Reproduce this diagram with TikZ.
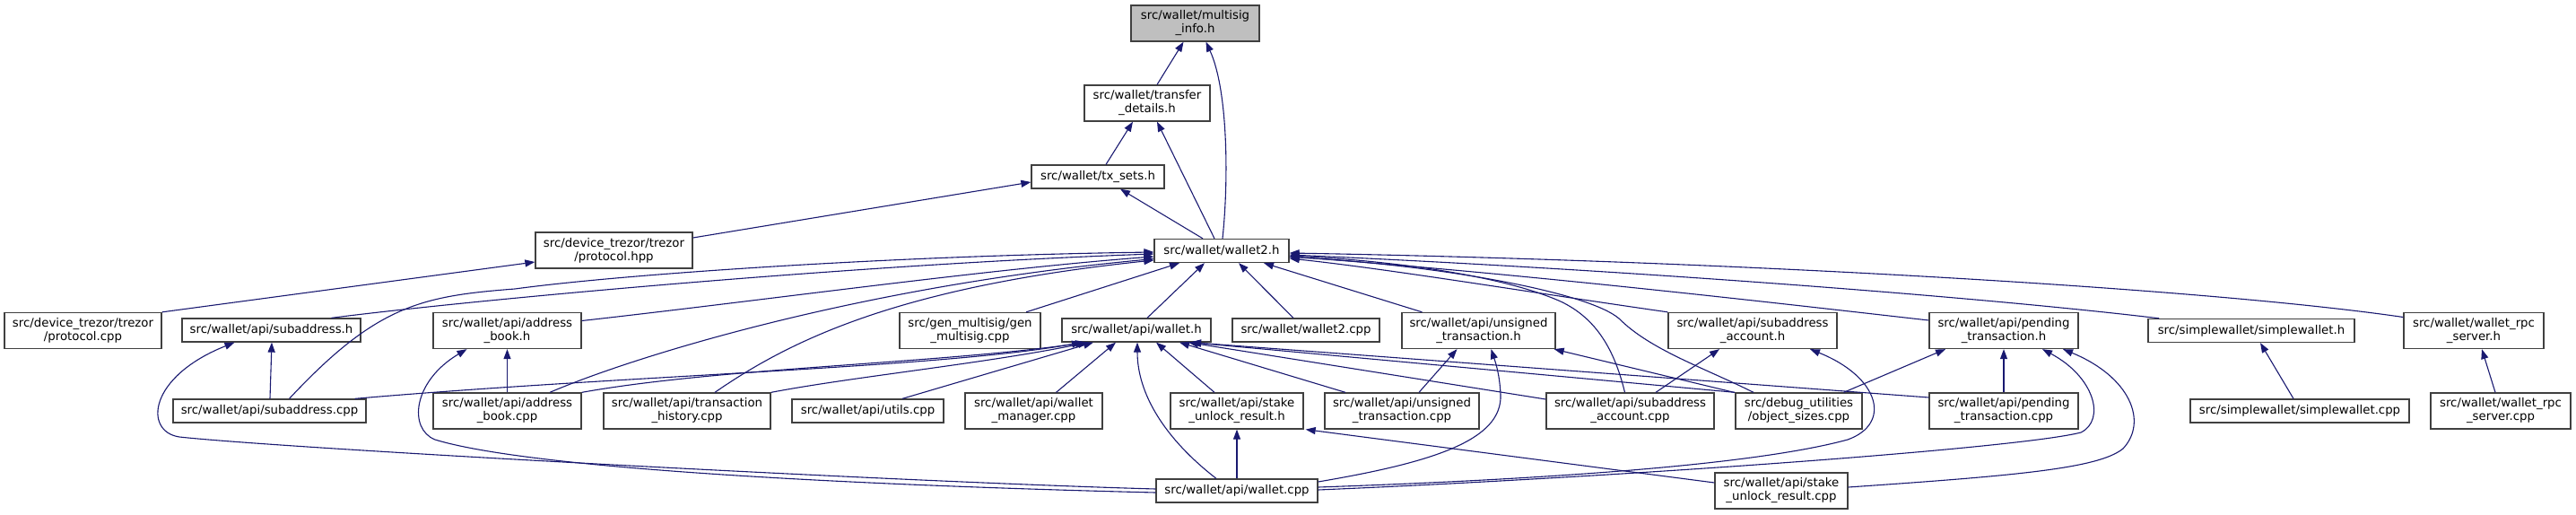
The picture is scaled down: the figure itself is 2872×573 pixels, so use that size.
\documentclass[tikz,border=0pt]{standalone}
\usepackage{fontspec}
\setmainfont{DejaVu Sans}
\usetikzlibrary{arrows.meta,calc}
\definecolor{edgeblue}{HTML}{191970}
\definecolor{boxgray}{HTML}{404040}
\definecolor{rootfill}{HTML}{BFBFBF}
\tikzset{
  fbox/.style={draw=boxgray, fill=white, line width=1.3pt, align=center, inner sep=0pt,
    font=\fontsize{13.3}{15}\selectfont},
  dep/.style={draw=edgeblue, line width=1.1pt, -{Triangle[length=11pt,width=8pt]}},
}
\begin{document}
\begin{tikzpicture}[x=1pt,y=-1pt]
\useasboundingbox (0,0) rectangle (2872,573);
% nodes
\node[fbox, fill=rootfill, minimum width=143pt, minimum height=40pt] (mi) at (1332.5,26) {src/wallet/multisig\\\_info.h};
\node[fbox, minimum width=140pt, minimum height=40pt] (td) at (1279,115) {src/wallet/transfer\\\_details.h};
\node[fbox, minimum width=148pt, minimum height=26pt] (ts) at (1224,197) {src/wallet/tx\_sets.h};
\node[fbox, minimum width=175pt, minimum height=40pt] (phpp) at (684.5,279) {src/device\_trezor/trezor\\/protocol.hpp};
\node[fbox, minimum width=150pt, minimum height=26pt] (w2h) at (1362,279.5) {src/wallet/wallet2.h};
\node[fbox, minimum width=175pt, minimum height=40pt] (pcpp) at (92.5,368.5) {src/device\_trezor/trezor\\/protocol.cpp};
\node[fbox, minimum width=199pt, minimum height=26pt] (sah) at (302.5,368) {src/wallet/api/subaddress.h};
\node[fbox, minimum width=165pt, minimum height=40pt] (abh) at (565.5,368.5) {src/wallet/api/address\\\_book.h};
\node[fbox, minimum width=157pt, minimum height=40pt] (gm) at (1081.5,368.5) {src/gen\_multisig/gen\\\_multisig.cpp};
\node[fbox, minimum width=166pt, minimum height=26pt] (wh) at (1267,368) {src/wallet/api/wallet.h};
\node[fbox, minimum width=164pt, minimum height=26pt] (w2cpp) at (1456,368) {src/wallet/wallet2.cpp};
\node[fbox, minimum width=171pt, minimum height=40pt] (uth) at (1648.5,368.5) {src/wallet/api/unsigned\\\_transaction.h};
\node[fbox, minimum width=188pt, minimum height=40pt] (sach) at (1954,368.5) {src/wallet/api/subaddress\\\_account.h};
\node[fbox, minimum width=166pt, minimum height=40pt] (pth) at (2234,368.5) {src/wallet/api/pending\\\_transaction.h};
\node[fbox, minimum width=230pt, minimum height=26pt] (swh) at (2510,368.5) {src/simplewallet/simplewallet.h};
\node[fbox, minimum width=156pt, minimum height=40pt] (rpch) at (2758,368.5) {src/wallet/wallet\_rpc\\\_server.h};
\node[fbox, minimum width=215pt, minimum height=26pt] (sacpp) at (300.5,458) {src/wallet/api/subaddress.cpp};
\node[fbox, minimum width=165pt, minimum height=40pt] (abcpp) at (565.5,458) {src/wallet/api/address\\\_book.cpp};
\node[fbox, minimum width=186pt, minimum height=40pt] (thcpp) at (766,458) {src/wallet/api/transaction\\\_history.cpp};
\node[fbox, minimum width=169pt, minimum height=26pt] (ucpp) at (967.5,458) {src/wallet/api/utils.cpp};
\node[fbox, minimum width=153pt, minimum height=40pt] (wmcpp) at (1152.5,458) {src/wallet/api/wallet\\\_manager.cpp};
\node[fbox, minimum width=148pt, minimum height=40pt] (sulh) at (1379,458) {src/wallet/api/stake\\\_unlock\_result.h};
\node[fbox, minimum width=172pt, minimum height=40pt] (utcpp) at (1563,458) {src/wallet/api/unsigned\\\_transaction.cpp};
\node[fbox, minimum width=187pt, minimum height=40pt] (saccpp) at (1817.5,458) {src/wallet/api/subaddress\\\_account.cpp};
\node[fbox, minimum width=141pt, minimum height=40pt] (oscpp) at (2005.5,458) {src/debug\_utilities\\/object\_sizes.cpp};
\node[fbox, minimum width=166pt, minimum height=40pt] (ptcpp) at (2234,458) {src/wallet/api/pending\\\_transaction.cpp};
\node[fbox, minimum width=244pt, minimum height=26pt] (swcpp) at (2564,458) {src/simplewallet/simplewallet.cpp};
\node[fbox, minimum width=156pt, minimum height=40pt] (rpccpp) at (2788,458) {src/wallet/wallet\_rpc\\\_server.cpp};
\node[fbox, minimum width=180pt, minimum height=26pt] (wcpp) at (1379,547) {src/wallet/api/wallet.cpp};
\node[fbox, minimum width=148pt, minimum height=40pt] (sulcpp) at (1986,547) {src/wallet/api/stake\\\_unlock\_result.cpp};
% top part
\draw[dep] ($(td.north)+(11,0)$) -- ($(mi.south)+(-13,0)$);
\draw[dep] ($(w2h.north)+(1,0)$) .. controls (1370,200) and (1369,100) .. ($(mi.south)+(12,0)$);
\draw[dep] ($(ts.north)+(9,0)$) -- ($(td.south)+(-16,0)$);
\draw[dep] ($(w2h.north)+(-8,0)$) -- ($(td.south)+(11,0)$);
\draw[dep] ($(w2h.north)+(-21,0)$) -- ($(ts.south)+(25,0)$);
\draw[dep] ($(phpp.east)+(0,-14)$) -- ($(ts.west)+(0,6)$);
\draw[dep] (pcpp.north east) -- ($(phpp.west)+(0,13)$);
% into wallet2.h from the left
\draw[dep] ($(sah.north)+(67,0)$) .. controls (520,335) and (950,295) .. ($(w2h.west)+(0,3.5)$);
\draw[dep] ($(sacpp.north)+(22,0)$) .. controls (420,340) and (470,330) .. (574,322) .. controls (700,305) and (1000,285) .. ($(w2h.west)+(0,1.5)$);
\draw[dep] ($(abh.east)+(0,-11)$) .. controls (850,335) and (1100,300) .. ($(w2h.west)+(0,6.5)$);
\draw[dep] ($(abcpp.north)+(47.5,0)$) .. controls (700,400) and (950,320) .. ($(w2h.west)+(0,9)$);
\draw[dep] ($(thcpp.north)+(31,0)$) .. controls (880,380) and (1000,320) .. ($(w2h.west)+(0,10.5)$);
% into wallet2.h from below
\draw[dep] ($(gm.north)+(62.5,0)$) -- ($(w2h.south)+(-47,0)$);
\draw[dep] ($(wh.north)+(12,0)$) -- ($(w2h.south)+(-19,0)$);
\draw[dep] ($(w2cpp.north)+(-14,0)$) -- ($(w2h.south)+(19,0)$);
\draw[dep] ($(uth.north)+(-63,0)$) -- ($(w2h.south)+(47,0)$);
% into wallet2.h from the right
\draw[dep] ($(rpch.west)+(0,-15)$) .. controls (2450,320) and (1900,290) .. ($(w2h.east)+(0,2.5)$);
\draw[dep] ($(swh.north west)+(13,0)$) .. controls (2200,330) and (1800,300) .. ($(w2h.east)+(0,4.5)$);
\draw[dep] ($(pth.west)+(0,-11.5)$) .. controls (2000,340) and (1700,305) .. ($(w2h.east)+(0,6.5)$);
\draw[dep] (sach.north west) .. controls (1700,325) and (1550,300) .. ($(w2h.east)+(0,8.5)$);
\draw[dep] ($(saccpp.north)+(-6,0)$) .. controls (1800,390) and (1780,355) .. (1740,336) .. controls (1670,305) and (1540,290) .. ($(w2h.east)+(0,5.5)$);
\draw[dep] ($(oscpp.north)+(-50.5,0)$) .. controls (1900,410) and (1840,390) .. (1805,355) .. controls (1770,325) and (1600,295) .. ($(w2h.east)+(0,7)$);
% into wallet.h
\draw[dep] ($(sacpp.north east)+(-13,0)$) .. controls (700,418) and (1050,410) .. ($(wh.south)+(-61,0)$);
\draw[dep] (abcpp.north east) .. controls (800,410) and (1050,405) .. ($(wh.south)+(-57,0)$);
\draw[dep] (thcpp.north east) .. controls (950,420) and (1100,405) .. ($(wh.south)+(-54,0)$);
\draw[dep] ($(ucpp.north)+(38.5,0)$) -- ($(wh.south)+(-48,0)$);
\draw[dep] ($(wmcpp.north)+(25,0)$) -- ($(wh.south)+(-23,0)$);
\draw[dep] ($(wcpp.north)+(-23,0)$) .. controls (1300,490) and (1268,440) .. ($(wh.south)+(1,0)$);
\draw[dep] ($(sulh.north)+(-25,0)$) -- ($(wh.south)+(22,0)$);
\draw[dep] ($(utcpp.north)+(-63,0)$) -- ($(wh.south)+(48,0)$);
\draw[dep] ($(saccpp.west)+(0,-13)$) -- ($(wh.south)+(58,0)$);
\draw[dep] (oscpp.north west) -- ($(wh.south)+(61,0)$);
\draw[dep] ($(ptcpp.west)+(0,-15)$) -- ($(wh.south)+(61,0)$);
% into unsigned_transaction.h
\draw[dep] ($(utcpp.north)+(19,0)$) -- ($(uth.south)+(-24,0)$);
\draw[dep] ($(wcpp.east)+(0,-10)$) .. controls (1600,515) and (1675,490) .. (1673,440) .. controls (1672,415) and (1666,400) .. ($(uth.south)+(14,0)$);
\draw[dep] ($(oscpp.north west)+(-1,0)$) -- ($(uth.south east)+(-2,0)$);
% into subaddress_account.h
\draw[dep] ($(saccpp.north)+(28.5,0)$) -- ($(sach.south)+(-37,0)$);
\draw[dep] ($(wcpp.east)+(0,-4)$) .. controls (1700,535) and (1950,520) .. (2060,490) .. controls (2110,472) and (2095,420) .. ($(sach.south)+(64,0)$);
% into pending_transaction.h
\draw[dep] ($(oscpp.north)+(50,0)$) -- ($(pth.south)+(-65,0)$);
\draw[dep] (ptcpp.north) -- (pth.south);
\draw[dep] ($(wcpp.east)+(0,-1)$) .. controls (1800,532) and (2250,500) .. (2320,482) .. controls (2348,468) and (2335,420) .. ($(pth.south)+(43,0)$);
\draw[dep] ($(sulcpp.east)+(0,-4)$) .. controls (2250,530) and (2340,522) .. (2367,500) .. controls (2395,470) and (2375,420) .. ($(pth.south)+(66,0)$);
% into stake_unlock_result.h
\draw[dep] (wcpp.north) -- (sulh.south);
\draw[dep] ($(sulcpp.west)+(0,-9)$) -- ($(sulh.south east)+(2,0)$);
% into subaddress.h
\draw[dep] ($(sacpp.north)+(0.5,0)$) -- ($(sah.south)+(0.5,0)$);
\draw[dep] ($(wcpp.west)+(0,-2)$) .. controls (1000,537) and (320,500) .. (200,487) .. controls (160,481) and (165,420) .. ($(sah.south)+(-41,0)$);
% into address_book.h
\draw[dep] (abcpp.north) -- (abh.south);
\draw[dep] ($(wcpp.west)+(0,2)$) .. controls (1000,542) and (600,525) .. (485,490) .. controls (455,478) and (460,425) .. ($(abh.south)+(-45,0)$);
% others
\draw[dep] ($(swcpp.north)+(-7,0)$) -- ($(swh.south)+(10,0)$);
\draw[dep] ($(rpccpp.north)+(-6,0)$) -- ($(rpch.south)+(9,0)$);
\end{tikzpicture}
\end{document}
